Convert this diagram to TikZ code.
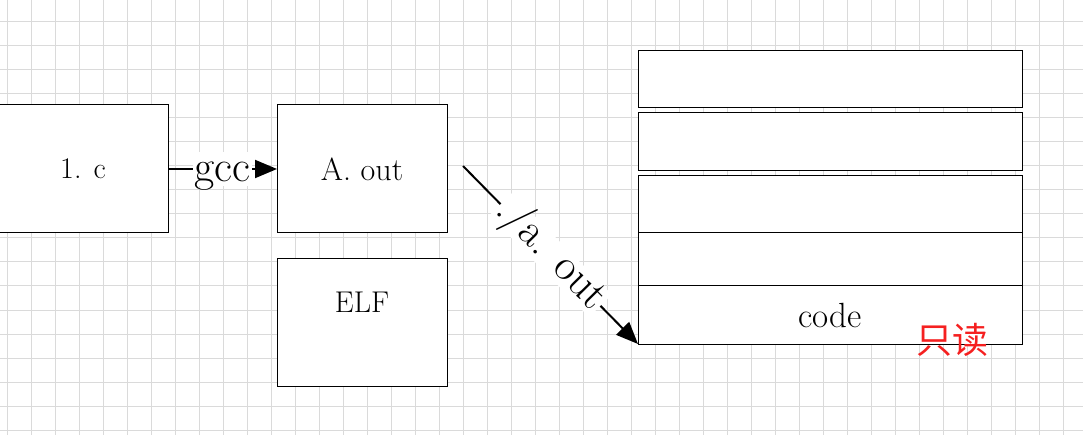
\documentclass[tikz,border=0pt]{standalone}
\usepackage{fontspec}
\newfontfamily\cjkfont{Noto Sans CJK SC}
\usetikzlibrary{arrows.meta,calc}
\definecolor{gridc}{RGB}{218,218,218}
\definecolor{redtxt}{RGB}{245,32,32}
\tikzset{
  box/.style={draw=black, line width=1pt, fill=white, inner sep=0pt, outer sep=0pt},
  lbl/.style={font=\fontsize{30}{34}\selectfont, inner sep=0pt},
  arr/.style={line width=2pt, -{Triangle[length=22pt,width=18pt]}},
  arrlab/.style={fill=white, inner sep=2pt, font=\fontsize{44}{48}\selectfont},
}
\begin{document}
\begin{tikzpicture}[x=1pt,y=-1pt]
\useasboundingbox (0,0) rectangle (1083,435);
\fill[white] (0,0) rectangle (1083,435);
% grid
\foreach \gx in {7,31,...,1083} \draw[gridc, line width=1pt] (\gx,0) -- (\gx,435);
\foreach \gy in {22,46,...,435} \draw[gridc, line width=1pt] (0,\gy) -- (1083,\gy);
% left boxes
\node[box, lbl, minimum width=170pt, minimum height=128pt] (c) at (83,169) {1. c};
\node[box, lbl, font=\fontsize{32}{36}\selectfont, minimum width=170pt, minimum height=128pt] (aout) at (362,169) {A. out};
\node[box, minimum width=170pt, minimum height=127pt] (elf) at (362,322.5) {};
\node[lbl] (elft) at ($(elf.north)+(0,43)$) {ELF};
% right memory boxes
\node[box, minimum width=384pt, minimum height=57pt] (r1) at (830,79.5) {};
\node[box, minimum width=384pt, minimum height=58pt] (r2) at (830,142) {};
\node[box, minimum width=384pt, minimum height=57pt] (r3) at (830,204.5) {};
\node[box, minimum width=384pt, minimum height=53pt] (r4) at (830,259.5) {};
\node[box, lbl, font=\fontsize{35}{38}\selectfont, minimum width=384pt, minimum height=58pt] (r5) at (830,315) {code};
\node[text=redtxt, inner sep=0pt, font=\cjkfont\fontsize{36}{38}\selectfont] (ro) at (952,340) {只读};
% arrows
\draw[arr] (c.east) -- node[arrlab, text height=28pt, text depth=2pt] {gcc} (aout.west);
\coordinate (s) at (463,166);
\draw[arr] (s) -- node[arrlab, sloped, text height=24pt, text depth=4pt] {./a. out} (r5.south west);
\end{tikzpicture}
\end{document}
